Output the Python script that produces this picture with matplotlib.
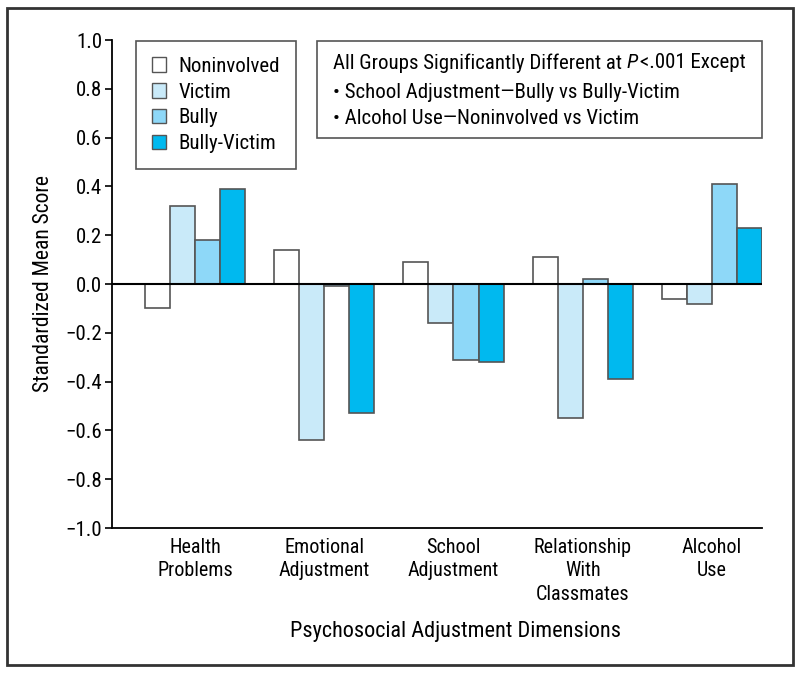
import matplotlib
matplotlib.use("Agg")
import matplotlib.pyplot as plt
from matplotlib import font_manager as fm
from matplotlib.patches import Patch, Rectangle
import numpy as np

# ---- pick a condensed sans font if one is installed ----
def pick_font():
    best = None
    for f in fm.fontManager.ttflist:
        key = (f.name + " " + f.fname).lower()
        if f.style != "normal" or f.weight not in (400, "normal", "regular"):
            continue
        if "mono" in key or "serif" in key and "sans" not in key:
            continue
        cond = ("narrow" in key or "condensed" in key or
                f.stretch in ("condensed", "semi-condensed"))
        if not cond or "extra" in key or "ultra" in key or "semi" in key:
            continue
        rank = 0 if "liberation" in key else 1 if "roboto" in key else 2 if "noto" in key else 3
        if best is None or rank < best[0]:
            best = (rank, f)
    return best[1] if best else None

chosen = pick_font()
if chosen is not None:
    FAMILY = [chosen.name, "DejaVu Sans"]
    STRETCH = chosen.stretch if isinstance(chosen.stretch, str) else "condensed"
else:
    FAMILY = ["Liberation Sans", "DejaVu Sans"]
    STRETCH = "normal"
plt.rcParams['font.family'] = FAMILY
plt.rcParams['font.stretch'] = STRETCH

categories = ["Health\nProblems", "Emotional\nAdjustment", "School\nAdjustment",
              "Relationship\nWith\nClassmates", "Alcohol\nUse"]
groups = ["Noninvolved", "Victim", "Bully", "Bully-Victim"]
noninvolved = [-0.10, 0.14, 0.09, 0.11, -0.06]
victim = [0.32, -0.64, -0.16, -0.55, -0.08]
bully = [0.18, -0.01, -0.31, 0.02, 0.41]
bully_victim = [0.39, -0.53, -0.32, -0.39, 0.23]
series = [noninvolved, victim, bully, bully_victim]
colors = ["#FFFFFF", "#C9EAF9", "#8ED8F8", "#00B9EF"]
yticks = [1.0, 0.8, 0.6, 0.4, 0.2, 0.0, -0.2, -0.4, -0.6, -0.8, -1.0]

fig = plt.figure(figsize=(8, 6.76), dpi=100)
ax = fig.add_axes([112/800, 1-528/676, (762-112)/800, (528-40)/676])

x = np.arange(len(categories))
w = 0.194
edge = "#555555"
for i, (vals, c) in enumerate(zip(series, colors)):
    ax.bar(x + (i - 1.5) * w, vals, width=w, color=c, edgecolor=edge,
           linewidth=1.2, zorder=2)

ax.axhline(0, color="black", linewidth=1.5, zorder=3)
ax.set_xlim(-0.643, 4.388)
ax.set_ylim(-1.0, 1.0)
ax.set_yticks(yticks)
ax.set_yticklabels([f"{v:.1f}".replace("-", "\u2212") for v in yticks], fontsize=15)
ax.set_xticks(x)
ax.set_xticklabels(categories, fontsize=14.5, linespacing=1.3)
ax.tick_params(axis='x', length=0, pad=7)
ax.tick_params(axis='y', length=5, width=1.2, direction='out', pad=2)
for s in ["top", "right"]:
    ax.spines[s].set_visible(False)
ax.spines["left"].set_linewidth(1.3)
ax.spines["bottom"].set_linewidth(1.3)

ax.set_ylabel("Standardized Mean Score", fontsize=15.5, labelpad=8)
fig.text(456/800, 1-631/676, "Psychosocial Adjustment Dimensions",
         fontsize=16, ha="center", va="center")

handles = [Patch(facecolor=c, edgecolor=edge, linewidth=1.0) for c in colors]
leg = ax.legend(handles, groups, loc="upper left",
                bbox_to_anchor=(136/800, 1-41/676), bbox_transform=fig.transFigure,
                borderaxespad=0,
                fancybox=False, edgecolor="#555555", fontsize=15,
                handlelength=0.7, handleheight=0.7, handletextpad=0.6,
                labelspacing=0.33, borderpad=0.75, framealpha=1)
leg.get_frame().set_linewidth(1.2)

# annotation box
fig.patches.append(Rectangle((317/800, 1-138/676), (762-317)/800, (138-41)/676,
                             transform=fig.transFigure, fill=False,
                             edgecolor="#555555", linewidth=1.2))
fs = 15
renderer = fig.canvas.get_renderer()
t1 = fig.text(333/800, 1-63/676, "All Groups Significantly Different at ",
              fontsize=fs, ha="left", va="center")
ext = t1.get_window_extent(renderer)
t2 = fig.text(ext.x1/800, 1-63/676, "P", fontsize=fs, ha="left", va="center",
              style="italic")
ext2 = t2.get_window_extent(renderer)
fig.text(ext2.x1/800 + 2/800, 1-63/676, "<.001 Except", fontsize=fs,
         ha="left", va="center")
fig.text(333/800, 1-92/676, "\u2022 School Adjustment\u2014Bully vs Bully-Victim",
         fontsize=fs, ha="left", va="center")
fig.text(333/800, 1-118/676, "\u2022 Alcohol Use\u2014Noninvolved vs Victim",
         fontsize=fs, ha="left", va="center")

# outer frame
fig.patches.append(Rectangle((7/800, 1-665/676), (793-7)/800, (665-8)/676,
                             transform=fig.transFigure, fill=False,
                             edgecolor="#333333", linewidth=2))

fig.savefig("out.png", dpi=100)
